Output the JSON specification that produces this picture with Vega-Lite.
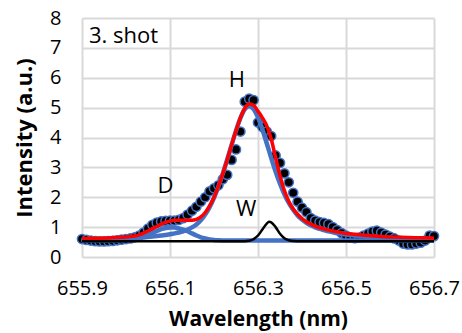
{
  "$schema": "https://vega.github.io/schema/vega-lite/v6.json",
  "width": 352,
  "height": 239,
  "autosize": "none",
  "padding": {"left": 82, "top": 18, "right": 28, "bottom": 76},
  "config": {"view": {"stroke": null}, "font": "Open Sans"},
  "datasets": {
    "pts": [
      {"wl": 655.90, "v": 0.60}, {"wl": 655.91, "v": 0.57}, {"wl": 655.92, "v": 0.55}, {"wl": 655.93, "v": 0.53},
      {"wl": 655.94, "v": 0.52}, {"wl": 655.95, "v": 0.52}, {"wl": 655.96, "v": 0.53}, {"wl": 655.97, "v": 0.54},
      {"wl": 655.98, "v": 0.56}, {"wl": 655.99, "v": 0.58}, {"wl": 656.00, "v": 0.60}, {"wl": 656.01, "v": 0.62},
      {"wl": 656.02, "v": 0.66}, {"wl": 656.03, "v": 0.72}, {"wl": 656.04, "v": 0.82}, {"wl": 656.05, "v": 0.95},
      {"wl": 656.06, "v": 1.08}, {"wl": 656.07, "v": 1.15}, {"wl": 656.08, "v": 1.19}, {"wl": 656.09, "v": 1.21},
      {"wl": 656.10, "v": 1.22}, {"wl": 656.11, "v": 1.22}, {"wl": 656.12, "v": 1.24}, {"wl": 656.13, "v": 1.30},
      {"wl": 656.14, "v": 1.42}, {"wl": 656.15, "v": 1.55}, {"wl": 656.16, "v": 1.68}, {"wl": 656.17, "v": 1.85},
      {"wl": 656.18, "v": 2.00}, {"wl": 656.19, "v": 2.20}, {"wl": 656.20, "v": 2.30}, {"wl": 656.21, "v": 2.40},
      {"wl": 656.22, "v": 2.60}, {"wl": 656.23, "v": 2.75}, {"wl": 656.24, "v": 3.25}, {"wl": 656.25, "v": 3.60},
      {"wl": 656.26, "v": 4.20}, {"wl": 656.27, "v": 5.20}, {"wl": 656.28, "v": 5.30}, {"wl": 656.29, "v": 5.25},
      {"wl": 656.30, "v": 4.50}, {"wl": 656.31, "v": 4.35}, {"wl": 656.32, "v": 4.20}, {"wl": 656.33, "v": 4.05},
      {"wl": 656.34, "v": 3.40}, {"wl": 656.35, "v": 3.15}, {"wl": 656.36, "v": 2.80}, {"wl": 656.37, "v": 2.50},
      {"wl": 656.38, "v": 2.15}, {"wl": 656.39, "v": 1.85}, {"wl": 656.40, "v": 1.65}, {"wl": 656.41, "v": 1.50},
      {"wl": 656.42, "v": 1.30}, {"wl": 656.43, "v": 1.22}, {"wl": 656.44, "v": 1.17}, {"wl": 656.45, "v": 1.14},
      {"wl": 656.46, "v": 1.10}, {"wl": 656.47, "v": 1.00}, {"wl": 656.48, "v": 0.90}, {"wl": 656.49, "v": 0.80},
      {"wl": 656.50, "v": 0.72}, {"wl": 656.51, "v": 0.65}, {"wl": 656.52, "v": 0.63}, {"wl": 656.53, "v": 0.65},
      {"wl": 656.54, "v": 0.72}, {"wl": 656.55, "v": 0.78}, {"wl": 656.56, "v": 0.85}, {"wl": 656.57, "v": 0.88},
      {"wl": 656.58, "v": 0.82}, {"wl": 656.59, "v": 0.75}, {"wl": 656.60, "v": 0.68}, {"wl": 656.61, "v": 0.62},
      {"wl": 656.62, "v": 0.55}, {"wl": 656.63, "v": 0.45}, {"wl": 656.64, "v": 0.42}, {"wl": 656.65, "v": 0.42},
      {"wl": 656.66, "v": 0.45}, {"wl": 656.67, "v": 0.48}, {"wl": 656.68, "v": 0.55}, {"wl": 656.69, "v": 0.72},
      {"wl": 656.70, "v": 0.70}
    ],
    "hcomp": [
      {"wl": 655.90, "v": 0.58}, {"wl": 655.92, "v": 0.585}, {"wl": 655.94, "v": 0.59}, {"wl": 655.96, "v": 0.60},
      {"wl": 655.98, "v": 0.61}, {"wl": 656.00, "v": 0.62}, {"wl": 656.02, "v": 0.635}, {"wl": 656.04, "v": 0.655},
      {"wl": 656.06, "v": 0.685}, {"wl": 656.08, "v": 0.72}, {"wl": 656.10, "v": 0.76}, {"wl": 656.11, "v": 0.79},
      {"wl": 656.12, "v": 0.82}, {"wl": 656.13, "v": 0.86}, {"wl": 656.14, "v": 0.92}, {"wl": 656.15, "v": 0.99},
      {"wl": 656.16, "v": 1.09}, {"wl": 656.17, "v": 1.23}, {"wl": 656.18, "v": 1.42}, {"wl": 656.19, "v": 1.67},
      {"wl": 656.20, "v": 1.98}, {"wl": 656.21, "v": 2.36}, {"wl": 656.22, "v": 2.79}, {"wl": 656.23, "v": 3.26},
      {"wl": 656.24, "v": 3.75}, {"wl": 656.25, "v": 4.23}, {"wl": 656.26, "v": 4.65}, {"wl": 656.27, "v": 4.95},
      {"wl": 656.28, "v": 5.05}, {"wl": 656.29, "v": 4.95}, {"wl": 656.30, "v": 4.67}, {"wl": 656.31, "v": 4.27},
      {"wl": 656.32, "v": 3.80}, {"wl": 656.33, "v": 3.32}, {"wl": 656.34, "v": 2.86}, {"wl": 656.35, "v": 2.45},
      {"wl": 656.36, "v": 2.10}, {"wl": 656.37, "v": 1.81}, {"wl": 656.38, "v": 1.58}, {"wl": 656.39, "v": 1.39},
      {"wl": 656.40, "v": 1.25}, {"wl": 656.41, "v": 1.14}, {"wl": 656.42, "v": 1.06}, {"wl": 656.43, "v": 0.99},
      {"wl": 656.44, "v": 0.94}, {"wl": 656.45, "v": 0.90}, {"wl": 656.46, "v": 0.86}, {"wl": 656.47, "v": 0.83},
      {"wl": 656.48, "v": 0.80}, {"wl": 656.50, "v": 0.75}, {"wl": 656.52, "v": 0.72}, {"wl": 656.55, "v": 0.68},
      {"wl": 656.58, "v": 0.65}, {"wl": 656.61, "v": 0.63}, {"wl": 656.64, "v": 0.615}, {"wl": 656.67, "v": 0.605},
      {"wl": 656.70, "v": 0.595}
    ],
    "dcomp": [
      {"wl": 655.90, "v": 0.55}, {"wl": 655.98, "v": 0.555}, {"wl": 656.00, "v": 0.57}, {"wl": 656.01, "v": 0.585},
      {"wl": 656.02, "v": 0.61}, {"wl": 656.03, "v": 0.645}, {"wl": 656.04, "v": 0.69}, {"wl": 656.05, "v": 0.75},
      {"wl": 656.06, "v": 0.81}, {"wl": 656.07, "v": 0.87}, {"wl": 656.08, "v": 0.93}, {"wl": 656.09, "v": 0.97},
      {"wl": 656.10, "v": 0.99}, {"wl": 656.11, "v": 0.99}, {"wl": 656.12, "v": 0.96}, {"wl": 656.13, "v": 0.92},
      {"wl": 656.14, "v": 0.86}, {"wl": 656.15, "v": 0.79}, {"wl": 656.16, "v": 0.72}, {"wl": 656.17, "v": 0.66},
      {"wl": 656.18, "v": 0.62}, {"wl": 656.19, "v": 0.59}, {"wl": 656.20, "v": 0.57}, {"wl": 656.21, "v": 0.56},
      {"wl": 656.22, "v": 0.555}, {"wl": 656.24, "v": 0.55}, {"wl": 656.70, "v": 0.55}
    ],
    "fit": [
      {"wl": 655.90, "v": 0.62}, {"wl": 655.92, "v": 0.625}, {"wl": 655.94, "v": 0.63}, {"wl": 655.96, "v": 0.64},
      {"wl": 655.98, "v": 0.655}, {"wl": 656.00, "v": 0.67}, {"wl": 656.01, "v": 0.69}, {"wl": 656.02, "v": 0.70},
      {"wl": 656.03, "v": 0.74}, {"wl": 656.04, "v": 0.80}, {"wl": 656.05, "v": 0.87}, {"wl": 656.06, "v": 0.95},
      {"wl": 656.07, "v": 1.02}, {"wl": 656.08, "v": 1.10}, {"wl": 656.09, "v": 1.16}, {"wl": 656.10, "v": 1.20},
      {"wl": 656.11, "v": 1.23}, {"wl": 656.12, "v": 1.23}, {"wl": 656.13, "v": 1.23}, {"wl": 656.14, "v": 1.23},
      {"wl": 656.15, "v": 1.23}, {"wl": 656.16, "v": 1.26}, {"wl": 656.17, "v": 1.34}, {"wl": 656.18, "v": 1.49},
      {"wl": 656.19, "v": 1.71}, {"wl": 656.20, "v": 2.00}, {"wl": 656.21, "v": 2.37}, {"wl": 656.22, "v": 2.79},
      {"wl": 656.23, "v": 3.26}, {"wl": 656.24, "v": 3.75}, {"wl": 656.25, "v": 4.23}, {"wl": 656.26, "v": 4.66},
      {"wl": 656.27, "v": 4.98}, {"wl": 656.28, "v": 5.12}, {"wl": 656.29, "v": 5.08}, {"wl": 656.30, "v": 4.88},
      {"wl": 656.31, "v": 4.66}, {"wl": 656.32, "v": 4.39}, {"wl": 656.33, "v": 3.95}, {"wl": 656.34, "v": 3.33},
      {"wl": 656.35, "v": 2.72}, {"wl": 656.36, "v": 2.22}, {"wl": 656.37, "v": 1.86}, {"wl": 656.38, "v": 1.61},
      {"wl": 656.39, "v": 1.43}, {"wl": 656.40, "v": 1.29}, {"wl": 656.41, "v": 1.18}, {"wl": 656.42, "v": 1.10},
      {"wl": 656.43, "v": 1.03}, {"wl": 656.44, "v": 0.98}, {"wl": 656.45, "v": 0.94}, {"wl": 656.46, "v": 0.90},
      {"wl": 656.47, "v": 0.87}, {"wl": 656.48, "v": 0.84}, {"wl": 656.50, "v": 0.79}, {"wl": 656.52, "v": 0.76},
      {"wl": 656.55, "v": 0.72}, {"wl": 656.58, "v": 0.69}, {"wl": 656.61, "v": 0.67}, {"wl": 656.64, "v": 0.655},
      {"wl": 656.67, "v": 0.645}, {"wl": 656.70, "v": 0.635}
    ],
    "wcomp": [
      {"wl": 655.90, "v": 0.53}, {"wl": 656.27, "v": 0.53}, {"wl": 656.28, "v": 0.545}, {"wl": 656.29, "v": 0.60},
      {"wl": 656.30, "v": 0.72}, {"wl": 656.31, "v": 0.92}, {"wl": 656.32, "v": 1.12}, {"wl": 656.325, "v": 1.18},
      {"wl": 656.33, "v": 1.16}, {"wl": 656.34, "v": 1.00}, {"wl": 656.35, "v": 0.78}, {"wl": 656.36, "v": 0.63},
      {"wl": 656.37, "v": 0.56}, {"wl": 656.38, "v": 0.535}, {"wl": 656.39, "v": 0.53}, {"wl": 656.70, "v": 0.53}
    ],
    "labels": [
      {"wl": 656.252, "v": 5.92, "t": "H"},
      {"wl": 656.09, "v": 2.39, "t": "D"},
      {"wl": 656.273, "v": 1.59, "t": "W"}
    ],
    "tag": [
      {"wl": 655.916, "v": 7.41, "t": "3. shot"}
    ]
  },
  "encoding": {
    "x": {
      "field": "wl", "type": "quantitative",
      "scale": {"domain": [655.9, 656.7], "nice": false, "zero": false},
      "axis": {
        "values": [655.9, 656.1, 656.3, 656.5, 656.7], "format": ".1f", "labelFlush": false, "labelOverlap": false,
        "title": "Wavelength (nm)", "titleFont": "Open Sans", "titleFontSize": 21, "titleFontWeight": "bold",
        "titleColor": "#000000", "titlePadding": 10,
        "labelFont": "Open Sans", "labelFontSize": 20, "labelColor": "#000000", "labelPadding": 21,
        "grid": true, "gridColor": "#d9d9d9", "gridWidth": 2, "domain": false, "ticks": false
      }
    },
    "y": {
      "field": "v", "type": "quantitative",
      "scale": {"domain": [0, 8], "nice": false},
      "axis": {
        "values": [0, 1, 2, 3, 4, 5, 6, 7, 8], "labelFlush": false, "labelOverlap": false,
        "title": "Intensity (a.u.)", "titleFont": "Open Sans", "titleFontSize": 22, "titleFontWeight": "bold",
        "titleColor": "#000000", "titlePadding": 13,
        "labelFont": "Open Sans", "labelFontSize": 20, "labelColor": "#000000", "labelPadding": 21,
        "grid": true, "gridColor": "#d9d9d9", "gridWidth": 2, "domain": false, "ticks": false
      }
    }
  },
  "layer": [
    {
      "data": {"name": "pts"},
      "mark": {"type": "point", "filled": true, "fill": "#000000", "stroke": "#4472c4", "strokeWidth": 1.5, "size": 85, "opacity": 1, "shape": "circle"}
    },
    {
      "data": {"name": "dcomp"},
      "mark": {"type": "line", "color": "#4472c4", "strokeWidth": 4.5, "interpolate": "monotone"}
    },
    {
      "data": {"name": "hcomp"},
      "mark": {"type": "line", "color": "#4472c4", "strokeWidth": 4.5, "interpolate": "monotone"}
    },
    {
      "data": {"name": "fit"},
      "mark": {"type": "line", "color": "#ff0000", "strokeWidth": 3.5, "interpolate": "monotone"}
    },
    {
      "data": {"name": "wcomp"},
      "mark": {"type": "line", "color": "#000000", "strokeWidth": 2.5, "interpolate": "monotone"}
    },
    {
      "data": {"name": "labels"},
      "mark": {"type": "text", "font": "Open Sans", "fontSize": 22, "color": "#000000", "align": "center", "baseline": "middle"},
      "encoding": {"text": {"field": "t"}}
    },
    {
      "data": {"name": "tag"},
      "mark": {"type": "text", "font": "Open Sans", "fontSize": 22, "color": "#000000", "align": "left", "baseline": "middle"},
      "encoding": {"text": {"field": "t"}}
    }
  ]
}
